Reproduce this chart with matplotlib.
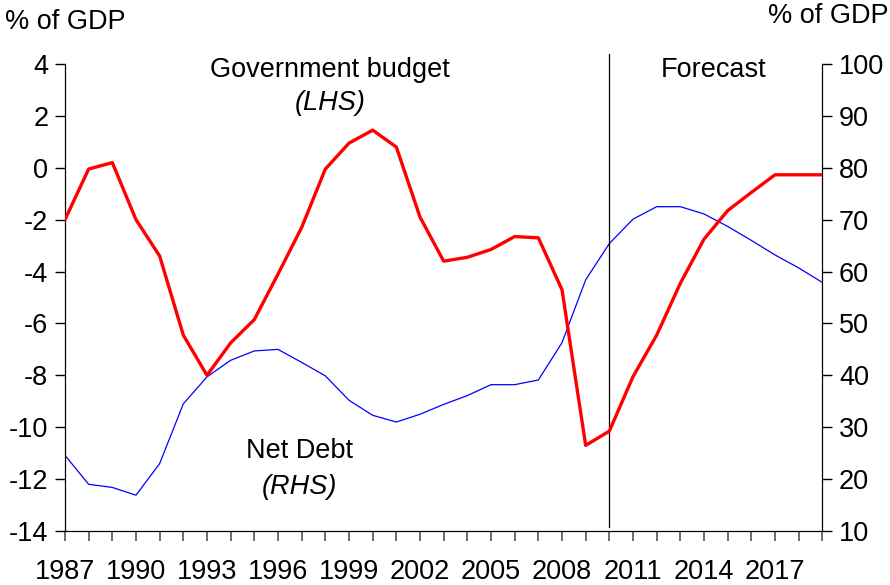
import matplotlib
matplotlib.use("Agg")
import matplotlib.pyplot as plt

plt.rcParams['font.family'] = ['Liberation Sans', 'DejaVu Sans']
plt.rcParams['axes.unicode_minus'] = False

years = list(range(1987, 2020))

# Government budget balance, % of GDP (left axis)
budget = [-2.0, -0.05, 0.2, -2.0, -3.4, -6.45, -8.0, -6.75, -5.85, -4.1,
          -2.3, -0.05, 0.95, 1.45, 0.8, -1.9, -3.6, -3.45, -3.15, -2.65,
          -2.7, -4.7, -10.7, -10.15, -8.05, -6.45, -4.45, -2.75, -1.65,
          -0.95, -0.27, -0.27, -0.27]

# Net debt, % of GDP (right axis)
net_debt = [24.6, 19.0, 18.4, 16.9, 23.0, 34.5, 39.7, 42.9, 44.7, 45.0,
            42.5, 39.9, 35.2, 32.3, 31.0, 32.5, 34.4, 36.1, 38.2, 38.2,
            39.1, 46.3, 58.4, 65.4, 70.1, 72.5, 72.5, 71.1, 68.7, 66.0,
            63.2, 60.7, 57.9]

forecast_start = 2010
left_ticks = list(range(-14, 5, 2))
right_ticks = list(range(10, 101, 10))
year_labels = list(range(1987, 2018, 3))

fs = 19.5

fig = plt.figure(figsize=(8.9, 5.85), dpi=100)
ax = fig.add_axes([0.073, 0.0923, 0.851, 0.7983])
ax2 = ax.twinx()

ax.plot(years, budget, color='#ff0000', lw=2.4, zorder=3)
ax2.plot(years, net_debt, color='#0000ff', lw=0.9)

ax.set_xlim(1987, 2019)
ax.set_ylim(-14, 4)
ax2.set_ylim(10, 100)
ax.set_zorder(ax2.get_zorder() + 1)
ax.patch.set_visible(False)

ax.set_yticks(left_ticks)
ax2.set_yticks(right_ticks)
ax.set_xticks(years, minor=True)
ax.set_xticks(year_labels)
ax.set_xticklabels([str(y) for y in year_labels])

for a in (ax, ax2):
    a.spines['top'].set_visible(False)
    a.tick_params(axis='y', direction='out', length=7, width=1, labelsize=fs, pad=5)
ax.tick_params(axis='x', which='both', direction='out', length=7, width=1.2,
               color='#555555', labelsize=fs, pad=13)
ax.tick_params(axis='x', which='minor', labelbottom=False)

# forecast divider
ax.plot([forecast_start, forecast_start], [-13.85, 4.4], color='black', lw=0.9,
        clip_on=False, zorder=2)

ax.text(1998.2, 3.77, 'Government budget', ha='center', va='center', fontsize=fs)
ax.text(1998.2, 2.5, '(LHS)', ha='center', va='center', fontsize=fs, style='italic')
ax.text(2014.4, 3.77, 'Forecast', ha='center', va='center', fontsize=fs)
ax.text(1996.9, -10.9, 'Net Debt', ha='center', va='center', fontsize=fs)
ax.text(1996.9, -12.3, '(RHS)', ha='center', va='center', fontsize=fs, style='italic')

fig.text(0.006, 0.963, '% of GDP', ha='left', va='center', fontsize=fs)
fig.text(0.998, 0.972, '% of GDP', ha='right', va='center', fontsize=fs)

fig.savefig('out.png', dpi=100)
